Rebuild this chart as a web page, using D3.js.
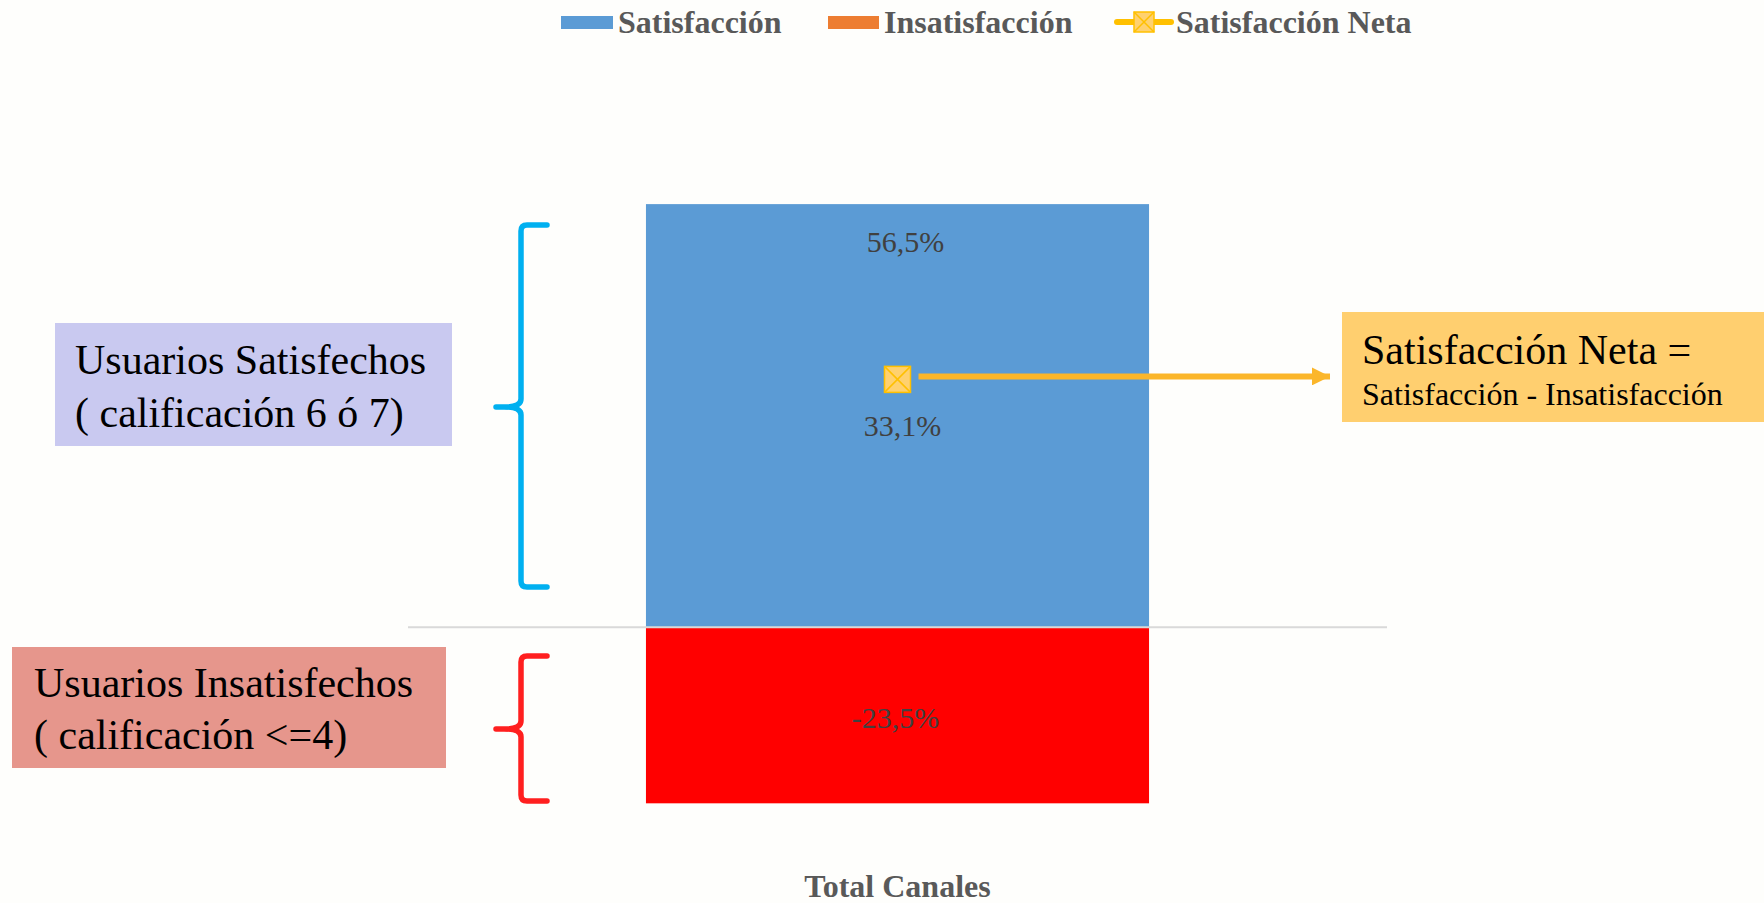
<!DOCTYPE html>
<html>
<head>
<meta charset="utf-8">
<script src="https://cdn.jsdelivr.net/npm/d3@7/dist/d3.min.js"></script>
<style>
  html, body { margin: 0; padding: 0; background: #FEFEFC; }
  svg { display: block; font-family: "Liberation Serif", "Times New Roman", serif; }
</style>
</head>
<body>
<svg id="chart" width="1764" height="903"></svg>
<script>
// Series values (percent)
const categories = ["Total Canales"];
const satisfaccion = [56.5];
const insatisfaccion = [-23.5];
const satisfaccionNeta = [33.1];
const legendLabels = ["Satisfacción", "Insatisfacción", "Satisfacción Neta"];

const W = 1764, H = 903;
const svg = d3.select("#chart");
svg.append("rect").attr("width", W).attr("height", H).attr("fill", "#FEFEFC");

const colors = {
  sat: "#5B9BD5",
  insLegend: "#ED7D31",
  insBar: "#FF0000",
  neta: "#FFC000",
  netaFill: "#FFD16F",
  arrow: "#FBB62A"
};

// Spanish-style percent labels: decimal comma, plain hyphen for negatives
const fmt = v => d3.format(".1f")(v).replace(".", ",").replace("\u2212", "-") + "%";

// Scales
const x = d3.scaleBand().domain(categories).range([408, 1387]).paddingInner(0).paddingOuter(0.473);
const y = d3.scaleLinear().domain([-30, 70]).range([852, 103]);

const data = categories.map((c, i) => ({
  cat: c, sat: satisfaccion[i], ins: insatisfaccion[i], neta: satisfaccionNeta[i]
}));

// Bars
const g = svg.append("g");
g.selectAll("rect.sat").data(data).join("rect")
  .attr("class", "sat")
  .attr("x", d => x(d.cat)).attr("width", x.bandwidth())
  .attr("y", d => y(d.sat)).attr("height", d => y(0) - y(d.sat))
  .attr("fill", colors.sat);
g.selectAll("rect.ins").data(data).join("rect")
  .attr("class", "ins")
  .attr("x", d => x(d.cat)).attr("width", x.bandwidth())
  .attr("y", y(0)).attr("height", d => y(d.ins) - y(0))
  .attr("fill", colors.insBar);

// Zero gridline
g.append("line")
  .attr("x1", x.range()[0]).attr("x2", x.range()[1])
  .attr("y1", y(0)).attr("y2", y(0))
  .attr("stroke", "#D9D9D9").attr("stroke-width", 2);

// Category axis label
g.selectAll("text.cat").data(categories).join("text")
  .attr("class", "cat")
  .attr("x", d => x(d) + x.bandwidth() / 2).attr("y", 886)
  .attr("text-anchor", "middle").attr("dominant-baseline", "central")
  .attr("font-size", 32).attr("font-weight", "bold").attr("fill", "#595959")
  .text(d => d);

// Net satisfaction arrow
const cx = d => x(d.cat) + x.bandwidth() / 2;
const defs = svg.append("defs");
defs.append("marker").attr("id", "arrowHead")
  .attr("viewBox", "0 0 10 10").attr("refX", 10).attr("refY", 5)
  .attr("markerUnits", "userSpaceOnUse").attr("markerWidth", 20).attr("markerHeight", 18)
  .attr("orient", "auto")
  .append("path").attr("d", "M0,0 L10,5 L0,10 Z").attr("fill", colors.arrow);

g.selectAll("line.arrow").data(data).join("line")
  .attr("class", "arrow")
  .attr("x1", d => cx(d) + 21).attr("x2", 1330)
  .attr("y1", d => y(d.neta) - 3).attr("y2", d => y(d.neta) - 3)
  .attr("stroke", colors.arrow).attr("stroke-width", 6)
  .attr("marker-end", "url(#arrowHead)");

// Net satisfaction marker (square with cross)
function crossMarker(sel, size) {
  const h = size / 2;
  sel.append("rect").attr("x", -h).attr("y", -h).attr("width", size).attr("height", size)
    .attr("fill", colors.netaFill).attr("stroke", colors.neta).attr("stroke-width", 1.5);
  sel.append("path").attr("d", `M${-h},${-h}L${h},${h}M${h},${-h}L${-h},${h}`)
    .attr("stroke", colors.neta).attr("stroke-width", 1.5);
}
g.selectAll("g.neta").data(data).join("g")
  .attr("class", "neta")
  .attr("transform", d => `translate(${cx(d)},${y(d.neta)})`)
  .each(function () { crossMarker(d3.select(this), 26); });

// Data labels
const lbl = g.append("g").attr("font-size", 30).attr("fill", "#404040")
  .attr("text-anchor", "middle").attr("dominant-baseline", "central");
lbl.selectAll("text.s").data(data).join("text").attr("class", "s")
  .attr("x", d => cx(d) + 8).attr("y", d => y(d.sat) + 37).text(d => fmt(d.sat));
lbl.selectAll("text.n").data(data).join("text").attr("class", "n")
  .attr("x", d => cx(d) + 5).attr("y", d => y(d.neta) + 46).text(d => fmt(d.neta));
lbl.selectAll("text.i").data(data).join("text").attr("class", "i")
  .attr("x", d => cx(d) - 2).attr("y", d => (y(0) + y(d.ins)) / 2 + 2).text(d => fmt(d.ins));

// Braces
function brace(top, bottom, tipY, color) {
  const xv = 521, xr = 547, xl = 496, r = 6;
  const p = `M${xr},${top} L${xv + r},${top} Q${xv},${top} ${xv},${top + r}
    L${xv},${tipY - 8} Q${xv},${tipY} ${xl + 8},${tipY} L${xl},${tipY}
    M${xl + 8},${tipY} Q${xv},${tipY} ${xv},${tipY + 8}
    L${xv},${bottom - r} Q${xv},${bottom} ${xv + r},${bottom} L${xr},${bottom}`;
  svg.append("path").attr("d", p).attr("fill", "none").attr("stroke", color)
    .attr("stroke-width", 5.5).attr("stroke-linecap", "round").attr("stroke-linejoin", "round");
}
brace(225, 587, 407, "#00B0F0");
brace(656, 801, 729, "#FF1F1F");

// Annotation boxes
function textBox(bx, by, bw, bh, fill, lines) {
  const gg = svg.append("g");
  gg.append("rect").attr("x", bx).attr("y", by).attr("width", bw).attr("height", bh).attr("fill", fill);
  lines.forEach(l => {
    gg.append("text").attr("x", l.x).attr("y", l.y).attr("dominant-baseline", "central")
      .attr("font-size", l.size).attr("fill", "#000").text(l.t);
  });
}
textBox(55, 323, 397, 123, "#C9C9F0", [
  { t: "Usuarios Satisfechos", x: 75, y: 360, size: 42 },
  { t: "( calificación 6 ó 7)", x: 75, y: 413, size: 42 }
]);
textBox(12, 647, 434, 121, "#E6968C", [
  { t: "Usuarios Insatisfechos", x: 34, y: 683, size: 42 },
  { t: "( calificación <=4)", x: 34, y: 735, size: 42 }
]);
textBox(1342, 312, 422, 110, "#FFCF6F", [
  { t: "Satisfacción Neta =", x: 1362, y: 350, size: 42 },
  { t: "Satisfacción - Insatisfacción", x: 1362, y: 394, size: 32 }
]);

// Legend
const leg = svg.append("g").attr("font-size", 32).attr("font-weight", "bold").attr("fill", "#595959");
leg.append("rect").attr("x", 561).attr("y", 16).attr("width", 52).attr("height", 13).attr("fill", colors.sat);
leg.append("text").attr("x", 618).attr("y", 22).attr("dominant-baseline", "central").text(legendLabels[0]);
leg.append("rect").attr("x", 828).attr("y", 16).attr("width", 51).attr("height", 13).attr("fill", colors.insLegend);
leg.append("text").attr("x", 884).attr("y", 22).attr("dominant-baseline", "central").text(legendLabels[1]);
leg.append("line").attr("x1", 1117).attr("x2", 1171).attr("y1", 22).attr("y2", 22)
  .attr("stroke", colors.neta).attr("stroke-width", 6).attr("stroke-linecap", "round");
leg.append("g").attr("transform", "translate(1144,22)").each(function () { crossMarker(d3.select(this), 20); });
leg.append("text").attr("x", 1176).attr("y", 22).attr("dominant-baseline", "central").text(legendLabels[2]);
</script>
</body>
</html>
